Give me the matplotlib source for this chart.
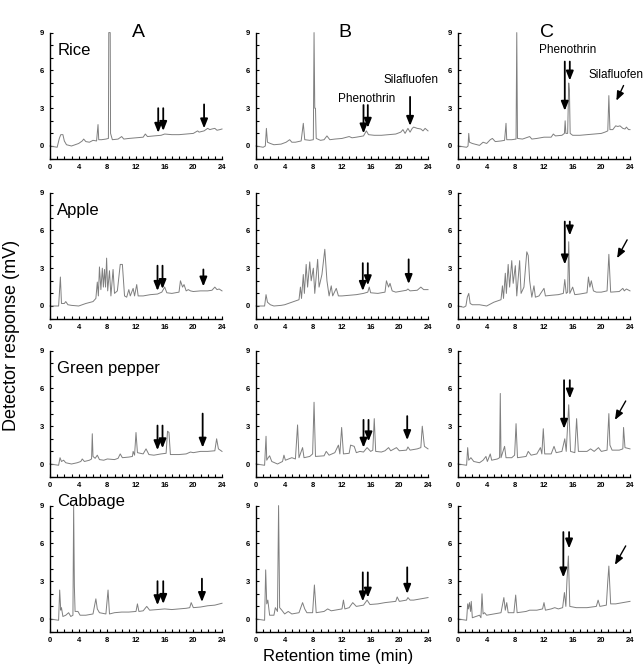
import matplotlib.pyplot as plt
from matplotlib.ticker import MultipleLocator

plt.rcParams['font.family'] = ['Liberation Sans', 'DejaVu Sans']

samples = ['Rice', 'Apple', 'Green pepper', 'Cabbage']
columns = ['A', 'B', 'C']
x_ticks = [0, 4, 8, 12, 16, 20, 24]
y_ticks = [0, 3, 6, 9]

# chromatograms: (retention time in min, response in mV)
rice_a = [(0, 0), (1.0, -0.1), (1.3, 0.6), (1.5, 0.9), (1.8, 0.9), (2.0, 0.4), (2.3, 0.1), (3.0, 0.0),
          (3.5, 0.1), (4.0, 0.2), (4.5, 0.4), (4.7, 0.55), (5.0, 0.35), (5.5, 0.3), (6.0, 0.45), (6.5, 0.4),
          (6.7, 1.7), (6.8, 0.5), (7.2, 0.5), (7.8, 0.55), (8.15, 0.6), (8.2, 9.0), (8.4, 9.0), (8.45, 1.0),
          (8.7, 0.5), (9.5, 0.55), (10.0, 0.75), (10.3, 0.55), (11.0, 0.6), (12.0, 0.65), (13.0, 0.7),
          (13.3, 0.95), (13.6, 0.75), (14.5, 0.8), (15.5, 0.85), (16.0, 0.95), (17.0, 0.9), (18.0, 0.9),
          (19.0, 0.95), (20.0, 1.0), (20.6, 1.2), (20.8, 1.1), (21.5, 1.2), (22.0, 1.4), (22.3, 1.3),
          (22.6, 1.35), (23.0, 1.4), (23.3, 1.25), (23.7, 1.3), (24.0, 1.35)]
rice_b = [(0, 0), (1.0, -0.1), (1.3, 0.0), (1.45, 1.4), (1.6, 0.3), (2.0, 0.2), (2.5, 0.1), (3.5, 0.15),
          (4.2, 0.3), (4.7, 0.5), (5.0, 0.3), (5.5, 0.3), (6.3, 0.4), (6.6, 1.8), (6.8, 0.5), (7.5, 0.45),
          (8.0, 0.5), (8.1, 9.0), (8.2, 3.0), (8.3, 3.0), (8.4, 0.6), (9.0, 0.45), (9.5, 0.5), (9.9, 0.8),
          (10.3, 0.5), (11.0, 0.55), (12.0, 0.6), (13.0, 0.75), (13.4, 0.65), (14.0, 0.7), (15.0, 0.8),
          (15.4, 1.2), (15.7, 0.9), (16.5, 0.85), (17.5, 0.85), (18.5, 0.9), (19.5, 0.95), (20.2, 1.1),
          (20.5, 1.3), (20.8, 1.0), (21.2, 1.4), (21.5, 1.1), (21.8, 1.4), (22.0, 1.5), (22.5, 1.4),
          (23.0, 1.35), (23.3, 1.2), (23.6, 1.4), (24.0, 1.2)]
rice_c = [(0, 0), (1.2, -0.1), (1.4, 0.0), (1.5, 1.0), (1.6, 0.3), (2.0, 0.2), (3.0, 0.05), (3.5, 0.3),
          (4.0, 0.2), (4.5, 0.5), (4.8, 0.6), (5.2, 0.35), (6.0, 0.4), (6.5, 0.45), (6.7, 1.8), (6.8, 0.5),
          (7.5, 0.5), (8.1, 0.55), (8.2, 9.0), (8.3, 0.6), (9.0, 0.55), (10.0, 0.75), (10.3, 0.55),
          (11.0, 0.6), (12.0, 0.7), (13.0, 0.7), (13.3, 0.95), (13.6, 0.8), (14.5, 0.85), (14.85, 1.0),
          (14.95, 2.0), (15.05, 1.0), (15.3, 1.0), (15.45, 5.0), (15.55, 4.4), (15.65, 1.0), (16.0, 0.85),
          (17.0, 0.85), (18.0, 0.9), (19.0, 0.95), (20.0, 1.0), (20.5, 1.1), (20.9, 1.2), (21.05, 4.0),
          (21.2, 1.3), (21.6, 1.3), (22.0, 1.6), (22.3, 1.55), (22.6, 1.6), (23.0, 1.4), (23.3, 1.35),
          (23.5, 1.5), (23.8, 1.3), (24.0, 1.3)]

apple_a = [(0, 0), (1.2, 0.0), (1.45, 2.3), (1.6, 0.2), (2.0, 0.2), (2.2, 0.35), (2.5, 0.1), (3.0, 0.05),
           (4.0, 0.0), (4.5, 0.1), (5.0, 0.2), (6.0, 0.35), (6.4, 0.6), (6.6, 1.9), (6.75, 0.8), (6.9, 3.1),
           (7.1, 1.3), (7.3, 3.0), (7.45, 1.5), (7.6, 2.9), (7.75, 1.5), (7.9, 3.8), (8.05, 1.2), (8.3, 2.8),
           (8.5, 0.8), (8.8, 2.9), (9.0, 1.0), (9.4, 1.2), (9.8, 3.3), (10.1, 3.3), (10.4, 0.8), (10.7, 0.7),
           (11.0, 1.3), (11.2, 0.8), (11.6, 1.4), (11.8, 0.8), (12.1, 1.7), (12.3, 0.8), (13.0, 0.8),
           (14.0, 0.9), (15.0, 0.95), (15.6, 1.1), (16.0, 1.5), (16.3, 1.05), (17.0, 1.0), (18.0, 1.1),
           (18.2, 2.0), (18.5, 1.5), (18.7, 1.7), (19.0, 1.2), (19.3, 1.3), (19.6, 1.2), (20.0, 1.15),
           (21.0, 1.2), (22.0, 1.2), (22.6, 1.25), (23.0, 1.5), (23.3, 1.3), (23.6, 1.35), (24.0, 1.2)]
apple_b = [(0, 0), (1.2, 0.0), (1.4, 0.9), (1.6, 0.3), (2.0, 0.1), (2.5, 0.0), (3.5, 0.05), (4.0, 0.1),
           (5.0, 0.3), (6.0, 0.5), (6.2, 1.5), (6.35, 0.6), (6.6, 2.5), (6.75, 1.0), (7.0, 3.3), (7.2, 1.5),
           (7.5, 3.5), (7.7, 2.0), (8.0, 3.0), (8.2, 1.0), (8.6, 3.7), (8.8, 1.5), (9.2, 2.5), (9.6, 4.5),
           (9.9, 2.0), (10.2, 0.8), (10.5, 1.6), (10.7, 0.8), (11.2, 1.4), (11.5, 0.8), (12.0, 0.8),
           (13.0, 0.85), (14.0, 0.9), (15.0, 1.0), (15.6, 1.1), (15.8, 1.5), (16.0, 1.05), (17.0, 1.0),
           (18.0, 1.1), (18.2, 2.0), (18.5, 1.5), (18.7, 1.8), (19.0, 1.2), (19.5, 1.1), (20.5, 1.2),
           (21.0, 1.25), (21.2, 1.35), (21.5, 1.2), (22.5, 1.25), (23.0, 1.5), (23.4, 1.3), (24.0, 1.3)]
apple_c = [(0, 0), (0.8, -0.1), (1.1, 0.0), (1.3, 0.7), (1.5, 1.0), (1.7, 0.2), (2.0, 0.1), (3.0, 0.1),
           (4.0, 0.0), (5.0, 0.3), (6.0, 0.5), (6.2, 1.6), (6.35, 0.6), (6.6, 2.6), (6.75, 1.0), (7.0, 3.3),
           (7.2, 1.5), (7.5, 3.6), (7.7, 1.8), (8.0, 3.2), (8.2, 0.8), (8.6, 3.6), (8.8, 1.0), (9.2, 1.5),
           (9.6, 4.3), (9.8, 4.0), (10.0, 2.0), (10.3, 0.7), (10.6, 1.6), (10.8, 0.7), (11.3, 0.8),
           (12.0, 1.4), (12.2, 0.8), (13.0, 0.85), (14.0, 0.9), (14.7, 1.0), (14.9, 2.1), (15.1, 1.0),
           (15.3, 1.1), (15.45, 5.1), (15.6, 1.0), (16.0, 1.5), (16.3, 0.9), (17.0, 0.95), (18.0, 1.05),
           (18.2, 2.3), (18.4, 1.5), (18.6, 2.0), (18.9, 1.2), (19.3, 1.1), (20.0, 1.1), (20.8, 1.2),
           (21.05, 4.1), (21.3, 1.1), (22.5, 1.15), (23.0, 1.4), (23.2, 1.2), (23.5, 1.35), (24.0, 1.2)]

pepper_a = [(0, 0), (1.2, -0.1), (1.4, 0.5), (1.6, 0.2), (1.9, 0.3), (2.2, 0.1), (3.0, 0.0), (3.8, 0.1),
            (4.3, 0.2), (4.5, 0.4), (4.8, 0.2), (5.5, 0.3), (5.8, 0.4), (5.9, 2.4), (6.0, 0.6), (6.3, 0.45),
            (6.6, 0.7), (6.9, 0.35), (7.5, 0.3), (8.0, 0.4), (9.0, 0.35), (9.5, 0.45), (9.8, 0.8),
            (10.1, 0.5), (11.0, 0.55), (11.5, 0.6), (11.6, 1.0), (11.8, 0.7), (12.0, 2.5), (12.2, 0.9),
            (13.0, 0.8), (13.4, 1.2), (13.8, 0.75), (14.5, 0.7), (15.5, 0.8), (16.2, 0.85), (16.4, 2.6),
            (16.6, 2.5), (16.8, 0.75), (18.0, 0.75), (19.0, 0.8), (19.6, 0.95), (20.0, 0.9), (21.0, 1.0),
            (22.0, 1.0), (23.0, 1.05), (23.25, 2.0), (23.5, 1.2), (24.0, 1.0)]
pepper_b = [(0, 0), (1.2, -0.1), (1.4, 2.2), (1.5, 0.3), (1.7, 0.5), (1.9, 0.65), (2.2, 0.2), (3.0, 0.0),
            (3.7, 0.2), (3.9, 0.7), (4.1, 0.3), (5.0, 0.5), (5.5, 0.4), (5.8, 3.1), (6.0, 0.5), (6.5, 1.3),
            (6.7, 0.5), (7.5, 0.6), (7.9, 0.8), (8.1, 4.9), (8.3, 0.6), (9.5, 0.65), (9.8, 1.0), (10.2, 0.7),
            (11.0, 0.9), (11.5, 1.5), (11.7, 0.8), (11.95, 2.9), (12.2, 0.8), (13.0, 0.85), (13.2, 1.5),
            (13.7, 1.4), (14.0, 0.9), (14.5, 1.0), (15.0, 0.95), (15.5, 1.3), (16.0, 1.0), (16.3, 1.1),
            (16.5, 3.6), (16.7, 1.0), (17.5, 0.95), (18.0, 1.05), (18.5, 1.3), (18.8, 1.05), (19.6, 1.3),
            (20.0, 1.05), (21.0, 1.1), (21.2, 1.35), (21.5, 1.1), (22.5, 1.2), (23.0, 1.3), (23.2, 3.0),
            (23.5, 1.4), (24.0, 1.2)]
pepper_c = [(0, 0), (1.2, -0.1), (1.35, 1.3), (1.5, 0.3), (1.8, 0.5), (2.2, 0.2), (3.0, 0.1), (3.5, 0.3),
            (3.9, 0.6), (4.1, 0.2), (4.5, 0.8), (4.7, 0.3), (5.5, 0.4), (5.8, 0.5), (5.9, 5.6), (6.0, 0.5),
            (6.5, 1.4), (6.7, 0.5), (7.5, 0.5), (7.9, 0.7), (8.1, 3.2), (8.3, 0.5), (9.5, 0.6), (9.8, 1.0),
            (10.2, 0.7), (11.0, 0.8), (11.5, 1.3), (11.7, 0.8), (11.9, 2.8), (12.1, 0.8), (13.0, 0.8),
            (13.4, 1.4), (13.7, 0.9), (14.5, 1.0), (14.9, 2.0), (15.1, 1.0), (15.45, 4.7), (15.7, 1.0),
            (16.3, 0.9), (16.55, 3.6), (16.8, 1.0), (18.0, 1.0), (18.5, 1.2), (19.0, 1.0), (19.6, 1.3),
            (20.0, 1.0), (20.8, 1.1), (21.05, 4.0), (21.2, 1.5), (21.5, 1.1), (22.5, 1.1), (23.0, 1.2),
            (23.1, 2.9), (23.3, 1.3), (24.0, 1.2)]

cabbage_a = [(0, 0), (1.2, -0.1), (1.35, 2.3), (1.5, 0.7), (1.6, 0.9), (1.8, 0.2), (2.2, 0.3), (2.6, 0.5),
             (2.9, 0.2), (3.2, 0.3), (3.3, 9.0), (3.4, 2.6), (3.5, 0.6), (3.9, 0.6), (4.2, 0.3), (5.0, 0.3),
             (6.0, 0.4), (6.4, 1.6), (6.6, 0.8), (6.9, 0.5), (7.8, 0.4), (8.1, 2.3), (8.3, 0.4), (9.0, 0.5),
             (10.0, 0.55), (11.0, 0.55), (12.0, 0.6), (12.2, 1.2), (12.4, 0.6), (13.0, 0.65), (13.5, 1.0),
             (13.9, 0.7), (15.0, 0.75), (16.0, 0.8), (17.0, 0.75), (18.0, 0.8), (19.0, 0.85), (19.5, 0.9),
             (19.7, 1.3), (20.0, 0.9), (21.0, 0.95), (22.0, 1.05), (23.0, 1.1), (24.0, 1.25)]
cabbage_b = [(0, 0), (1.2, -0.1), (1.35, 3.9), (1.5, 1.2), (1.65, 1.5), (1.9, 0.3), (2.5, 0.3), (2.7, 0.9),
             (3.0, 0.6), (3.15, 9.0), (3.3, 0.9), (3.6, 0.7), (4.0, 0.4), (4.5, 0.6), (5.0, 0.4), (6.0, 0.5),
             (6.5, 1.3), (6.8, 0.8), (7.1, 0.5), (7.9, 0.5), (8.15, 2.7), (8.4, 0.5), (9.5, 0.6), (10.0, 0.8),
             (10.5, 0.65), (11.0, 0.7), (12.0, 0.8), (12.2, 1.5), (12.4, 0.8), (13.0, 0.9), (13.5, 1.3),
             (14.0, 1.0), (15.0, 1.1), (15.5, 1.5), (15.9, 1.15), (17.0, 1.2), (18.0, 1.3), (19.5, 1.4),
             (19.7, 1.75), (20.0, 1.4), (21.0, 1.5), (21.2, 1.7), (21.5, 1.5), (22.0, 1.5), (23.0, 1.6),
             (24.0, 1.7)]
cabbage_c = [(0, 0), (1.2, -0.1), (1.35, 1.2), (1.45, 0.8), (1.6, 1.3), (1.75, 0.6), (1.85, 1.4), (2.0, 0.1),
             (2.5, 0.2), (3.0, 0.3), (3.2, 0.1), (3.35, 2.0), (3.5, 0.4), (3.7, 0.5), (4.0, 0.3), (5.0, 0.4),
             (6.0, 0.5), (6.4, 1.7), (6.6, 0.7), (6.8, 1.3), (7.0, 0.5), (7.8, 0.5), (8.05, 1.9), (8.25, 0.5),
             (9.5, 0.6), (10.0, 0.7), (11.0, 0.7), (11.8, 0.8), (12.0, 1.3), (12.2, 0.7), (13.0, 0.8),
             (13.5, 0.9), (14.0, 0.8), (14.6, 0.9), (14.85, 2.1), (15.05, 1.0), (15.2, 3.0), (15.4, 5.0),
             (15.6, 1.0), (16.5, 0.9), (18.0, 0.9), (19.3, 1.0), (19.55, 1.5), (19.8, 1.0), (20.7, 1.1),
             (20.9, 3.0), (21.05, 4.2), (21.3, 1.2), (22.0, 1.2), (23.0, 1.3), (24.0, 1.4)]

# vertical arrows: (time, top, tip)
rice_a_arrows = [(15.1, 3.0, 1.05), (15.8, 3.0, 1.2), (21.5, 3.3, 1.4)]
rice_b_arrows = [(15.0, 3.25, 1.0), (15.6, 3.25, 1.45), (21.5, 3.9, 1.6)]
rice_c_arrows = [(14.9, 6.7, 2.8), (15.6, 6.7, 5.2)]
apple_a_arrows = [(15.0, 3.2, 1.2), (15.7, 3.2, 1.35), (21.4, 2.9, 1.55)]
apple_b_arrows = [(14.9, 3.4, 1.2), (15.6, 3.4, 1.65), (21.3, 3.7, 1.75)]
apple_c_arrows = [(14.9, 6.7, 3.3), (15.6, 6.7, 5.6)]
pepper_a_arrows = [(15.0, 3.05, 1.1), (15.7, 3.05, 1.25), (21.3, 4.0, 1.3)]
pepper_b_arrows = [(15.0, 3.5, 1.3), (15.7, 3.5, 1.8), (21.1, 3.8, 1.9)]
pepper_c_arrows = [(14.8, 6.65, 2.8), (15.6, 6.65, 5.2)]
cabbage_a_arrows = [(15.0, 3.0, 1.1), (15.8, 3.0, 1.2), (21.2, 3.2, 1.35)]
cabbage_b_arrows = [(14.9, 3.7, 1.4), (15.6, 3.7, 1.7), (21.1, 4.1, 2.0)]
cabbage_c_arrows = [(14.7, 6.9, 3.3), (15.5, 6.9, 5.6)]

# slanted silafluofen arrows in column C: (t start, y start, t tip, y tip)
silafluofen_c = [(23.1, 4.8, 22.1, 3.6), (23.6, 5.25, 22.2, 3.8),
                 (23.4, 5.0, 21.9, 3.5), (23.4, 5.8, 21.9, 4.3)]
label_y = [7.6, 7.6, 7.6, 9.3]

traces = [[rice_a, rice_b, rice_c], [apple_a, apple_b, apple_c],
          [pepper_a, pepper_b, pepper_c], [cabbage_a, cabbage_b, cabbage_c]]
arrows = [[rice_a_arrows, rice_b_arrows, rice_c_arrows],
          [apple_a_arrows, apple_b_arrows, apple_c_arrows],
          [pepper_a_arrows, pepper_b_arrows, pepper_c_arrows],
          [cabbage_a_arrows, cabbage_b_arrows, cabbage_c_arrows]]

W, H = 644, 671
fig = plt.figure(figsize=(W / 100, H / 100), dpi=100)
col_px = [50, 256, 458]
zero_px = [146, 306, 464, 619]
unit = 12.6

head = '-|>,head_width=0.22,head_length=0.55'
for i in range(4):
    for j in range(3):
        ax = fig.add_axes([col_px[j] / W, 1 - (zero_px[i] + unit) / H, 172 / W, 10 * unit / H])
        t, y = zip(*traces[i][j])
        ax.plot(t, y, color='#7f7f7f', lw=0.7, clip_on=False)
        ax.set_xlim(0, 24)
        ax.set_ylim(-1, 9)
        ax.set_xticks(x_ticks)
        ax.set_yticks(y_ticks)
        ax.xaxis.set_minor_locator(MultipleLocator(1))
        ax.yaxis.set_minor_locator(MultipleLocator(1))
        ax.tick_params(which='both', direction='in', length=2.5, width=0.8)
        ax.tick_params(axis='x', pad=4)
        ax.tick_params(axis='y', pad=4)
        for lab in ax.get_xticklabels() + ax.get_yticklabels():
            lab.set_fontsize(5.5)
            lab.set_fontweight('bold')
        for s in ['top', 'right']:
            ax.spines[s].set_visible(False)
        for s in ['left', 'bottom']:
            ax.spines[s].set_linewidth(1.0)

        for (x, top, tip) in arrows[i][j]:
            ax.annotate('', xy=(x, tip), xytext=(x, top),
                        arrowprops=dict(arrowstyle=head, color='black', lw=1.3,
                                        shrinkA=0, shrinkB=0))
        if j == 2:
            x1, y1, x2, y2 = silafluofen_c[i]
            ax.annotate('', xy=(x2, y2), xytext=(x1, y1), annotation_clip=False,
                        arrowprops=dict(arrowstyle=head, color='black', lw=1.0,
                                        shrinkA=0, shrinkB=0))
        if j == 0:
            ax.text(1.0, label_y[i], samples[i], fontsize=12, va='center')
        if i == 0:
            ax.text(12.4, 9.0, columns[j], fontsize=14, ha='center', va='center')
            if j == 1:
                ax.text(15.4, 3.7, 'Phenothrin', fontsize=8.5, ha='center', va='center')
                ax.text(21.6, 5.2, 'Silafluofen', fontsize=8.5, ha='center', va='center')
            if j == 2:
                ax.text(15.3, 7.6, 'Phenothrin', fontsize=8.5, ha='center', va='center')
                ax.text(22.0, 5.6, 'Silafluofen', fontsize=8.5, ha='center', va='center',
                        clip_on=False)

fig.text(12 / W, 0.5, 'Detector response (mV)', rotation=90, fontsize=13,
         ha='center', va='center')
fig.text(338 / W, 1 - 657 / H, 'Retention time (min)', fontsize=12,
         ha='center', va='center')

fig.savefig('out.png', dpi=100)
